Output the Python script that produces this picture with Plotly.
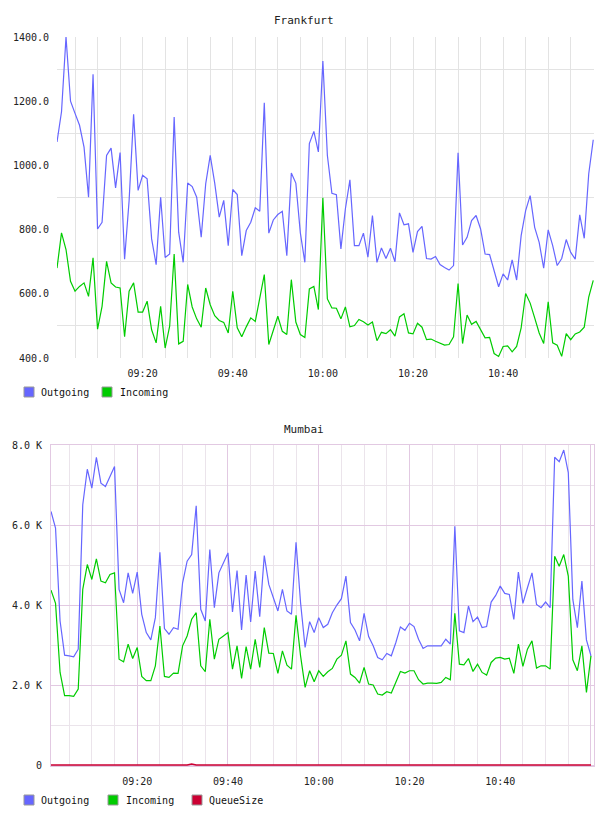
import plotly.graph_objects as go
import pandas as pd

W, H = 608, 816
FONT = "DejaVu Sans Mono"

# ---- data (1-minute samples 09:01 .. 11:00) ----
times = pd.date_range("2024-01-01 09:01", periods=120, freq="1min")

fra_out = [1073, 1167, 1400, 1200, 1162, 1125, 1057, 901, 1284, 802,
           823, 1031, 1054, 930, 1040, 708, 890, 1159, 922, 969,
           958, 771, 691, 901, 713, 724, 1151, 792, 698, 945,
           934, 901, 776, 943, 1031, 945, 839, 891, 750, 925,
           909, 719, 797, 823, 868, 857, 1195, 789, 830, 847,
           857, 719, 976, 945, 790, 698, 1068, 1106, 1042, 1325,
           1031, 913, 909, 740, 865, 955, 750, 750, 789, 714,
           844, 698, 743, 710, 742, 700, 852, 815, 818, 729,
           794, 810, 710, 708, 716, 691, 682, 674, 688, 1039,
           752, 776, 828, 844, 802, 724, 722, 674, 622, 662,
           643, 706, 643, 781, 859, 906, 807, 760, 680, 799,
           750, 688, 710, 769, 729, 708, 846, 773, 974, 1080]

fra_in = [680, 790, 738, 639, 608, 623, 634, 592, 712, 490,
          561, 701, 634, 621, 618, 466, 608, 634, 543, 543,
          577, 488, 447, 561, 431, 499, 724, 444, 452, 629,
          559, 522, 496, 618, 566, 532, 517, 511, 478, 608,
          494, 466, 497, 525, 514, 582, 660, 442, 490, 530,
          483, 473, 644, 512, 473, 464, 615, 623, 551, 899,
          584, 556, 555, 522, 559, 497, 501, 520, 513, 503,
          512, 454, 480, 476, 488, 468, 528, 538, 478, 475,
          508, 496, 457, 459, 452, 447, 440, 442, 466, 632,
          445, 534, 505, 514, 488, 463, 464, 414, 405, 436,
          438, 419, 436, 494, 601, 571, 525, 478, 445, 575,
          447, 440, 405, 476, 457, 475, 481, 496, 590, 642]

mum_out = [6340, 5925, 3601, 2746, 2730, 2705, 2895, 6506, 7394, 6921,
           7693, 7046, 6962, 7228, 7460, 4390, 4057, 4804, 4290, 4821,
           3767, 3310, 3128, 3684, 5319, 3410, 3269, 3435, 3394, 4556,
           5095, 5261, 6481, 3892, 3601, 5386, 3933, 4804, 5037, 5302,
           3825, 4863, 3377, 4746, 3576, 4846, 3709, 5236, 4514, 4182,
           3850, 4390, 3850, 3767, 5568, 4057, 2937, 3584, 3310, 3684,
           3435, 3518, 3808, 3999, 4157, 4721, 3559, 3377, 3103, 3792,
           3211, 2979, 2688, 2630, 2788, 2730, 3062, 3452, 3368, 3543,
           3460, 3144, 2912, 2979, 2979, 2979, 2979, 3144, 3020, 5967,
           3352, 3310, 3975, 3584, 3701, 3435, 3460, 4074, 4240, 4472,
           4290, 4265, 3642, 4821, 4041, 4431, 4804, 4016, 3933, 4074,
           3933, 7693, 7585, 7875, 7311, 4140, 3435, 4597, 3128, 2730]

mum_in = [4373, 4041, 2314, 1734, 1734, 1717, 1900, 4390, 5012, 4638,
          5153, 4597, 4556, 4763, 4804, 2646, 2580, 3020, 2663, 2937,
          2215, 2107, 2107, 2480, 3476, 2215, 2190, 2298, 2290, 2979,
          3227, 3643, 3808, 2480, 2331, 3643, 2646, 3144, 3227, 3310,
          2397, 2979, 2165, 2962, 2397, 3144, 2439, 3435, 2796, 2787,
          2290, 2854, 2497, 2397, 3742, 2729, 1941, 2356, 2082, 2356,
          2215, 2331, 2414, 2646, 2746, 3103, 2273, 2190, 2049, 2439,
          2024, 2000, 1775, 1750, 1833, 1800, 2066, 2339, 2298, 2356,
          2356, 2132, 2024, 2049, 2049, 2041, 2066, 2190, 2132, 3792,
          2522, 2505, 2663, 2339, 2522, 2314, 2248, 2564, 2671, 2688,
          2646, 2671, 2290, 3020, 2464, 2895, 3103, 2422, 2480, 2480,
          2397, 5219, 4970, 5261, 4721, 2630, 2356, 2979, 1817, 2729]

mum_queue = [0, 0, 0, 0, 0, 0, 0, 0, 0, 0,
             0, 0, 0, 0, 0, 0, 0, 0, 0, 0,
             0, 0, 0, 0, 0, 0, 0, 0, 0, 0,
             0, 25, 0, 0, 0, 0, 0, 0, 0, 0,
             0, 0, 0, 0, 0, 0, 0, 0, 0, 0,
             0, 0, 0, 0, 0, 0, 0, 0, 0, 0,
             0, 0, 0, 0, 0, 0, 0, 0, 0, 0,
             0, 0, 0, 0, 0, 0, 0, 0, 0, 0,
             0, 0, 0, 0, 0, 0, 0, 0, 0, 0,
             0, 0, 0, 0, 0, 0, 0, 0, 0, 0,
             0, 0, 0, 0, 0, 0, 0, 0, 0, 0,
             0, 0, 0, 0, 0, 0, 0, 0, 0, 0]

chart_titles = ["Frankfurt", "Mumbai"]
series_names = ["Outgoing", "Incoming", "QueueSize"]
series_colors = ["#6666ff", "#00cc00", "#cc0033"]

x_tick_labels = ["09:20", "09:40", "10:00", "10:20", "10:40"]
fra_y_ticks = [400, 600, 800, 1000, 1200, 1400]
fra_y_grid = [500, 700, 900, 1100, 1300]
mum_y_ticks = [0, 2000, 4000, 6000, 8000]
mum_y_tick_labels = ["0", "2.0 K", "4.0 K", "6.0 K", "8.0 K"]
mum_y_minor = [1000, 3000, 5000, 7000]

# ---- helpers ----
day = "2024-01-01 "
major_x = [pd.Timestamp(day + t) for t in x_tick_labels]
five_min = pd.date_range(day + "09:05", day + "11:00", freq="5min")
minor_x_top = [t for t in five_min if t not in major_x]
minor_x_bot = [t for t in five_min if t not in major_x and t != pd.Timestamp(day + "11:00")]


def px(v):
    return v / W


def py(v):
    return 1 - v / H


TICKFONT = dict(family=FONT, size=10, color="#222222")
GRID_TOP = "#e3e3e3"
GRID_MAJ = "#e2c9e2"
GRID_MIN = "#ebe4eb"

fig = go.Figure()

# Frankfurt
fig.add_trace(go.Scatter(x=times, y=fra_out, mode="lines", name=series_names[0],
                         line=dict(color=series_colors[0], width=1.2),
                         xaxis="x", yaxis="y", showlegend=False))
fig.add_trace(go.Scatter(x=times, y=fra_in, mode="lines", name=series_names[1],
                         line=dict(color=series_colors[1], width=1.2),
                         xaxis="x", yaxis="y", showlegend=False))
# Mumbai
fig.add_trace(go.Scatter(x=times, y=mum_out, mode="lines", name=series_names[0],
                         line=dict(color=series_colors[0], width=1.2),
                         xaxis="x2", yaxis="y2", showlegend=False))
fig.add_trace(go.Scatter(x=times, y=mum_in, mode="lines", name=series_names[1],
                         line=dict(color=series_colors[1], width=1.2),
                         xaxis="x2", yaxis="y2", showlegend=False))
fig.add_trace(go.Scatter(x=times, y=mum_queue, mode="lines", name=series_names[2],
                         line=dict(color=series_colors[2], width=1.6),
                         xaxis="x2", yaxis="y2", showlegend=False))

fig.update_layout(
    width=W, height=H,
    margin=dict(l=0, r=0, t=0, b=0, autoexpand=False),
    paper_bgcolor="white", plot_bgcolor="white",
    font=dict(family=FONT, size=10, color="#222222"),
    showlegend=False,
    xaxis=dict(
        type="date", domain=[px(57), px(594)],
        range=[pd.Timestamp(day + "09:01:00"), pd.Timestamp(day + "11:00:10")],
        anchor="y", automargin=False,
        tickmode="array", tickvals=major_x, ticktext=x_tick_labels,
        ticks="outside", ticklen=6, tickcolor="rgba(0,0,0,0)",
        tickfont=TICKFONT,
        showgrid=True, gridcolor=GRID_TOP, gridwidth=1,
        minor=dict(tickmode="array", tickvals=minor_x_top, showgrid=True,
                   gridcolor=GRID_TOP, gridwidth=1),
        showline=False, zeroline=False,
    ),
    yaxis=dict(
        domain=[py(358), py(37)], range=[400, 1400], anchor="x", automargin=False,
        tickmode="array", tickvals=fra_y_ticks, tickformat=".1f",
        ticks="outside", ticklen=5, tickcolor="rgba(0,0,0,0)",
        tickfont=TICKFONT,
        showgrid=False,
        minor=dict(tickmode="array", tickvals=fra_y_grid, showgrid=True,
                   gridcolor=GRID_TOP, gridwidth=1),
        showline=False, zeroline=False,
    ),
    xaxis2=dict(
        type="date", domain=[px(51), px(594)],
        range=[pd.Timestamp(day + "09:01:00"), pd.Timestamp(day + "11:00:40")],
        anchor="y2", automargin=False,
        tickmode="array", tickvals=major_x + [pd.Timestamp(day + "11:00")],
        ticktext=x_tick_labels + [""],
        ticks="outside", ticklen=6, tickcolor="rgba(0,0,0,0)",
        tickfont=TICKFONT,
        showgrid=True, gridcolor=GRID_MAJ, gridwidth=1,
        minor=dict(tickmode="array", tickvals=minor_x_bot, showgrid=True,
                   gridcolor=GRID_MIN, gridwidth=1),
        showline=True, mirror=True, linecolor=GRID_MAJ, linewidth=1,
        zeroline=False,
    ),
    yaxis2=dict(
        domain=[py(766), py(445)], range=[-25, 8000], anchor="x2", automargin=False,
        tickmode="array", tickvals=mum_y_ticks, ticktext=mum_y_tick_labels,
        ticks="outside", ticklen=6, tickcolor="rgba(0,0,0,0)",
        tickfont=TICKFONT,
        showgrid=True, gridcolor=GRID_MAJ, gridwidth=1,
        minor=dict(tickmode="array", tickvals=mum_y_minor, showgrid=True,
                   gridcolor=GRID_MIN, gridwidth=1),
        showline=True, mirror=True, linecolor=GRID_MAJ, linewidth=1,
        zeroline=False,
    ),
)

# titles
for title, ty in zip(chart_titles, [20, 429]):
    fig.add_annotation(text=title, xref="paper", yref="paper", x=0.5, y=py(ty),
                       xanchor="center", yanchor="middle", showarrow=False,
                       font=dict(family=FONT, size=11, color="#222222"))

# manual legends (square swatch + label)
legend_rows = [
    dict(cy=392, n=2, sq_x=[24, 102], txt_x=[39, 118]),
    dict(cy=800, n=3, sq_x=[24, 108, 192], txt_x=[39, 124, 207]),
]
for row in legend_rows:
    for k in range(row["n"]):
        sx = row["sq_x"][k]
        fig.add_shape(type="rect", xref="paper", yref="paper",
                      x0=px(sx), x1=px(sx + 10), y0=py(row["cy"] + 5), y1=py(row["cy"] - 5),
                      fillcolor=series_colors[k], line=dict(color="#999999", width=1))
        fig.add_annotation(text=series_names[k], xref="paper", yref="paper",
                           x=px(row["txt_x"][k]), y=py(row["cy"]),
                           xanchor="left", yanchor="middle", showarrow=False,
                           font=dict(family=FONT, size=10, color="#111111"))

fig.write_html("out.html")
